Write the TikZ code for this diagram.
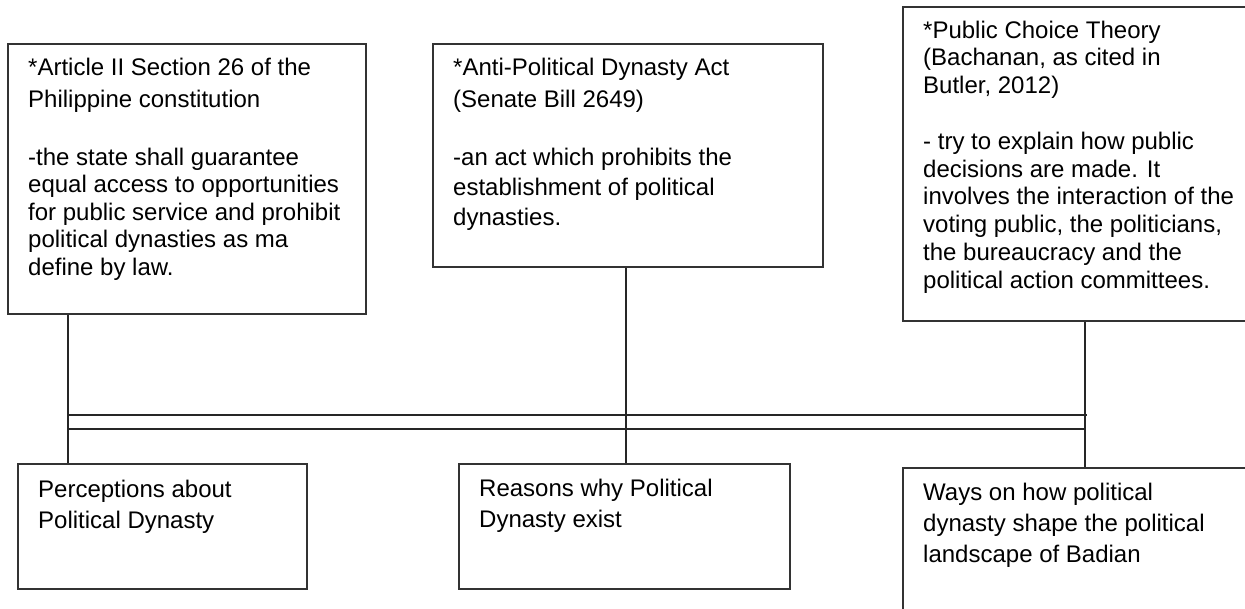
\documentclass[tikz,border=0pt]{standalone}
\usepackage{fontspec}
\setmainfont{Liberation Sans}
\tikzset{
  box/.style={draw=black!80, line width=2pt, anchor=north west, inner sep=0pt, fill=none},
  conn/.style={draw=black!85, line width=2pt},
  txt/.style={anchor=base west, inner sep=0pt, font=\fontsize{24}{27.5}\selectfont},
  txtm/.style={anchor=base west, inner sep=0pt, font=\fontsize{24}{30}\selectfont},
  txtc/.style={anchor=base west, inner sep=0pt, font=\fontsize{24}{27.8}\selectfont},
  txtb/.style={anchor=base west, inner sep=0pt, font=\fontsize{24}{31}\selectfont}
}
\begin{document}
\begin{tikzpicture}[x=1pt,y=-1pt]
\clip (0,0) rectangle (1245,608);
\fill[white] (0,0) rectangle (1245,608);
% top boxes
\node[box, minimum width=358pt, minimum height=270pt] (b1) at (7,43) {};
\node[box, minimum width=390pt, minimum height=223pt] (b2) at (432,43) {};
\node[box, minimum width=360pt, minimum height=314pt] (b3) at (902,6) {};
% bottom boxes
\node[box, minimum width=289pt, minimum height=125pt] (b4) at (17,463) {};
\node[box, minimum width=331pt, minimum height=125pt] (b5) at (458,463) {};
\node[box, minimum width=360pt, minimum height=170pt] (b6) at (902,467) {};
% texts
\node[txt] (t1) at (28,75) {\parbox[t]{340pt}{\raggedright *Article II Section 26 of the\\[4.5pt] Philippine constitution\\ \mbox{}\\[3pt] -the state shall guarantee\\ equal access to opportunities\\ for public service and prohibit\\ political dynasties as ma\\ define by law.}};
\node[txtm] (t2) at (453,75) {\parbox[t]{360pt}{\raggedright *Anti-Political Dynasty Act\\[2pt] (Senate Bill 2649)\\ \mbox{}\\[-2pt] -an act which prohibits the\\ establishment of political\\ dynasties.}};
\node[txtc] (t3) at (923,38) {\parbox[t]{320pt}{\raggedright *Public Choice Theory\\ (Bachanan, as cited in\\ Butler, 2012)\\ \mbox{}\\ - try to explain how public\\ decisions are made. It\\ involves the interaction of the\\ voting public, the politicians,\\ the bureaucracy and the\\ political action committees.}};
\node[txtb] (t4) at (38,497) {\parbox[t]{260pt}{\raggedright Perceptions about\\ Political Dynasty}};
\node[txtb] (t5) at (479,496) {\parbox[t]{300pt}{\raggedright Reasons why Political\\ Dynasty exist}};
\node[txtb] (t6) at (923,500) {\parbox[t]{320pt}{\raggedright Ways on how political\\ dynasty shape the political\\ landscape of Badian}};
% junction coordinates
\coordinate (hl1) at (68,415);
\coordinate (hr1) at (1087,415);
\coordinate (hl2) at (68,429);
\coordinate (hr2) at (1085,429);
\coordinate (vm) at (626,429);
% connectors
\draw[conn] (b1.south -| hl1) -- (b4.north -| hl1);
\draw[conn] (b2.south -| vm) -- (b5.north -| vm);
\draw[conn] (b3.south -| hr2) -- (b6.north -| hr2);
\draw[conn] (hl1) -- (hr1);
\draw[conn] (hl2) -- (hr2);
\end{tikzpicture}
\end{document}
